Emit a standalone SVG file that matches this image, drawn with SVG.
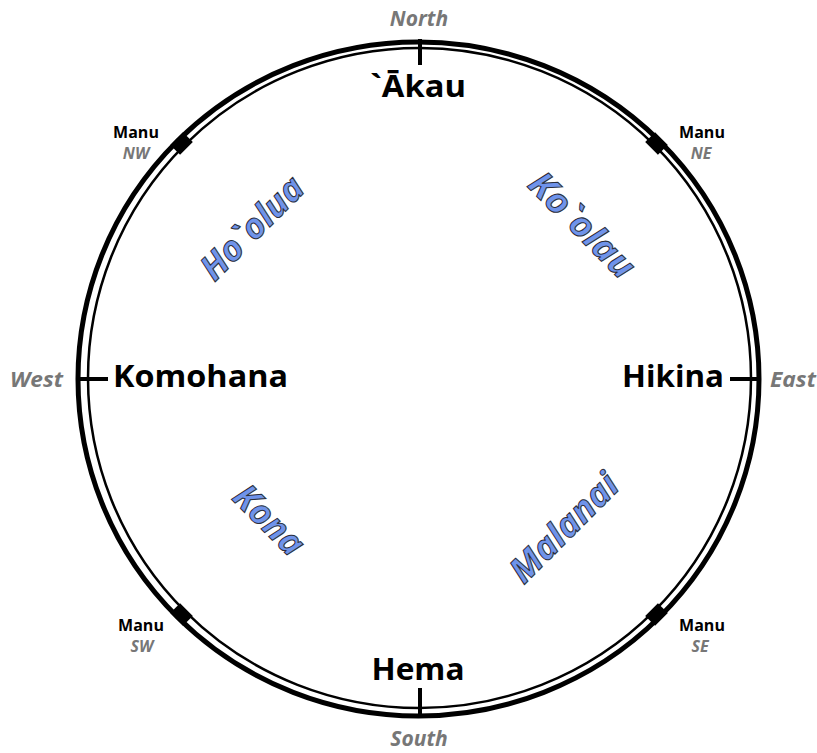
<svg xmlns="http://www.w3.org/2000/svg" width="817" height="753" viewBox="0 0 817 753">
<style>
.dir{font-family:"Open Sans","Liberation Sans",sans-serif;font-weight:700;fill:#000;}
.eng{font-family:"Open Sans","Liberation Sans",sans-serif;font-weight:700;font-style:italic;fill:#777;}
.manu{font-family:"Open Sans","Liberation Sans",sans-serif;font-weight:700;fill:#000;font-size:16px;text-anchor:middle;}
.sub{font-family:"Open Sans","Liberation Sans",sans-serif;font-weight:700;font-style:italic;fill:#777;font-size:16px;text-anchor:middle;}
.wind{font-family:"Open Sans","Liberation Sans",sans-serif;font-weight:700;font-style:italic;font-size:35px;fill:#6f93ea;stroke:#2a2d3a;stroke-width:1;text-anchor:middle;}
.tick{stroke:#000;stroke-width:4;}
</style>
<rect width="817" height="753" fill="#fff"/>
<g id="ring">
<ellipse cx="418.5" cy="379" rx="340.5" ry="337" fill="none" stroke="#000" stroke-width="5"/>
<ellipse cx="419.5" cy="378" rx="331.5" ry="330" fill="none" stroke="#000" stroke-width="2.5"/>
</g>
<g id="ticks">
<line class="tick" x1="420" y1="39" x2="420" y2="65"/>
<line class="tick" x1="420" y1="688" x2="420" y2="718"/>
<line class="tick" x1="79" y1="379" x2="108" y2="379"/>
<line class="tick" x1="730" y1="379" x2="760" y2="379"/>
</g>
<g id="manu-marks" fill="#000">
<rect x="-9" y="-7" width="18" height="14" transform="translate(181.5,143.5) rotate(-45)"/>
<rect x="-9" y="-7" width="18" height="14" transform="translate(656.5,143.5) rotate(45)"/>
<rect x="-9" y="-7" width="18" height="14" transform="translate(181.5,614.5) rotate(45)"/>
<rect x="-9" y="-7" width="18" height="14" transform="translate(656.5,614.5) rotate(-45)"/>
</g>
<g id="north">
<text class="eng" x="419" y="26" font-size="21" text-anchor="middle">North</text>
<text class="dir" x="418" y="97" font-size="30" text-anchor="middle" textLength="96" lengthAdjust="spacingAndGlyphs">`Ākau</text>
</g>
<g id="south">
<text class="dir" x="418" y="680" font-size="30" text-anchor="middle" textLength="93" lengthAdjust="spacingAndGlyphs">Hema</text>
<text class="eng" x="419" y="746" font-size="21" text-anchor="middle">South</text>
</g>
<g id="west">
<text class="eng" x="10" y="387" font-size="21" textLength="53" lengthAdjust="spacingAndGlyphs">West</text>
<text class="dir" x="113" y="387" font-size="30" textLength="175" lengthAdjust="spacingAndGlyphs">Komohana</text>
</g>
<g id="east">
<text class="dir" x="622" y="387" font-size="30" textLength="102" lengthAdjust="spacingAndGlyphs">Hikina</text>
<text class="eng" x="770" y="387" font-size="21" textLength="46" lengthAdjust="spacingAndGlyphs">East</text>
</g>
<g id="manu-nw">
<text class="manu" x="136" y="138">Manu</text>
<text class="sub" x="136" y="159">NW</text>
</g>
<g id="manu-ne">
<text class="manu" x="702" y="138">Manu</text>
<text class="sub" x="701" y="159">NE</text>
</g>
<g id="manu-sw">
<text class="manu" x="141" y="631">Manu</text>
<text class="sub" x="142" y="652">SW</text>
</g>
<g id="manu-se">
<text class="manu" x="702" y="631">Manu</text>
<text class="sub" x="700" y="652">SE</text>
</g>
<g id="hoolua" transform="translate(252,228) rotate(-45)">
<text class="wind" x="0" y="12" textLength="130" lengthAdjust="spacingAndGlyphs">Ho`olua</text>
</g>
<g id="koolau" transform="translate(582,225) rotate(45)">
<text class="wind" x="0" y="12" textLength="134" lengthAdjust="spacingAndGlyphs">Ko`olau</text>
</g>
<g id="kona" transform="translate(269,520) rotate(45)">
<text class="wind" x="0" y="12" textLength="84" lengthAdjust="spacingAndGlyphs">Kona</text>
</g>
<g id="malanai" transform="translate(564,528) rotate(-45)">
<text class="wind" x="0" y="12" textLength="138" lengthAdjust="spacingAndGlyphs">Malanai</text>
</g>
</svg>
